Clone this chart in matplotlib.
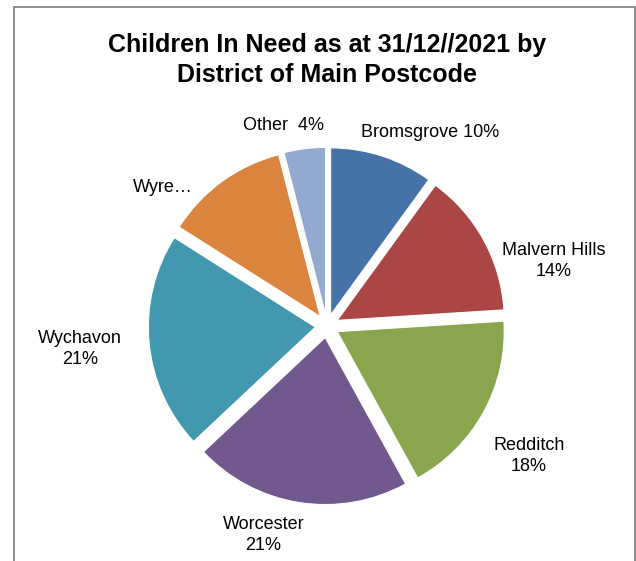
import matplotlib
matplotlib.use("Agg")
import matplotlib.pyplot as plt
from matplotlib.patches import Rectangle

plt.rcParams["font.family"] = ["Liberation Sans", "DejaVu Sans"]

districts = ["Bromsgrove", "Malvern Hills", "Redditch", "Worcester",
             "Wychavon", "Wyre Forest", "Other"]
shares = [10, 14, 18, 21, 21, 12, 4]
label_texts = ["Bromsgrove 10%", "Malvern Hills\n14%", "Redditch\n18%",
               "Worcester\n21%", "Wychavon\n21%", "Wyre…", "Other  4%"]
colors = ["#4572A7", "#AA4643", "#89A54E", "#71588F",
          "#4198AF", "#DB843D", "#93A9CF"]

# label anchor points in pie units (radius = 1)
label_pos = [(0.62, 1.16), (1.36, 0.39), (1.21, -0.78), (-0.38, -1.25),
             (-1.48, -0.14), (-0.98, 0.83), (-0.26, 1.20)]

W, H = 636, 561
fig = plt.figure(figsize=(W / 100, H / 100), dpi=100)
fig.patch.set_facecolor("white")

# chart border
fig.patches.append(Rectangle((14 / W, -0.02), (635 - 14) / W, (H - 7) / H + 0.02,
                             transform=fig.transFigure, fill=False,
                             edgecolor="#868686", linewidth=1.3))

fig.text(327 / W, 1 - 60 / H,
         "Children In Need as at 31/12//2021 by\nDistrict of Main Postcode",
         ha="center", va="center", fontsize=18, fontweight="bold",
         linespacing=1.3)

# pie: radius 167 px, centre at (327, 326) px
R = 167
cx, cy = 327, 326
side = 3 * R
ax = fig.add_axes([(cx - side / 2) / W, (H - cy - side / 2) / H, side / W, side / H])
ax.pie(shares, colors=colors, startangle=90, counterclock=False,
       explode=[0.07] * len(shares), radius=1,
       wedgeprops=dict(edgecolor="white", linewidth=0.8))
ax.set_xlim(-1.5, 1.5)
ax.set_ylim(-1.5, 1.5)
ax.set_aspect("equal")
ax.axis("off")

for txt, (x, y) in zip(label_texts, label_pos):
    ax.text(x, y, txt, ha="center", va="center", fontsize=13,
            color="#000000", linespacing=1.3, clip_on=False)

fig.savefig("out.png", dpi=100, facecolor="white")
